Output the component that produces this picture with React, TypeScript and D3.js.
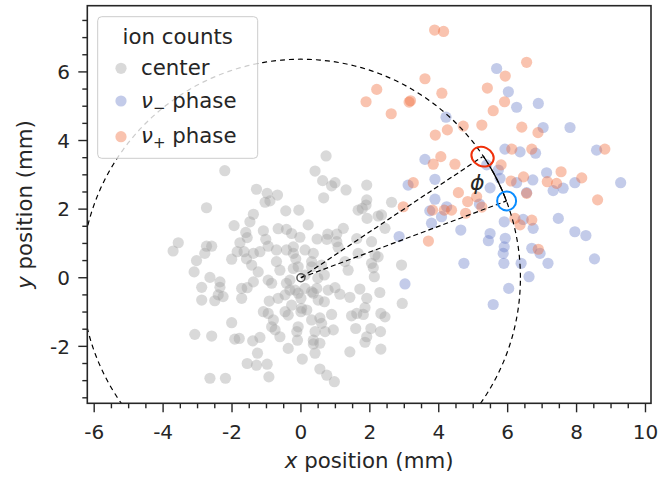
import React from 'react';
import * as d3 from 'd3';

// ion hits (mm)
const centerPts: [number, number][] = [
  [-2.21, 3.12], [-1.29, 2.58], [-0.98, 2.46], [-0.68, 2.41], [-0.9, 2.24], [-1.04, 2.2], [-2.74, 2.04], [-0.44, 1.95],
  [-1.38, 1.85], [-1.48, 1.63], [-1.94, 1.52], [-1.09, 1.37], [-0.66, 1.43], [-0.42, 1.41], [-1.6, 1.32], [-1.56, 1.17],
  [-1.02, 1.12], [-3.56, 1.02], [-3.71, 0.78], [-2.74, 0.92], [-2.59, 0.92], [-1.77, 1.02], [-0.95, 0.92], [-2.79, 0.71],
  [-3.03, 0.5], [-2.01, 0.54], [-1.85, 0.76], [-1.65, 0.76], [-1.38, 0.71], [-1.19, 0.76], [-0.71, 0.81], [-0.42, 0.81],
  [-1.58, 0.55], [-1.43, 0.37], [-0.71, 0.47],
  [0.73, 3.55], [0.41, 3.11], [0.63, 2.83], [0.99, 2.77], [0.89, 2.68], [1.31, 2.56], [1.91, 2.7], [0.66, 2.33],
  [1.91, 2.27], [1.89, 2.12], [1.66, 1.97], [1.78, 2.02], [2.63, 2.2], [-0.06, 1.97], [1.92, 1.73], [2.24, 1.8],
  [2.34, 1.83], [0.21, 1.54], [2.44, 1.44], [1.23, 1.44], [-0.27, 1.29], [-0.03, 1.18], [0.47, 1.13], [0.78, 1.27],
  [1.04, 1.27], [0.75, 1.12], [1.04, 1.05], [1.62, 1.14], [2.05, 1.05], [1.08, 0.89], [-0.22, 0.9], [0.12, 0.81],
  [0.36, 0.71], [1.66, 0.71], [2.24, 0.61], [2.92, 0.37], [-0.08, 0.32], [0.31, 0.47], [1.28, 0.47], [2.05, 0.42],
  [2.15, 0.66],
  [-3.1, 0.17], [-2.64, 0.01], [-2.88, -0.28], [-2.35, -0.12], [-2.35, -0.28], [-2.4, -0.5], [-2.26, -0.55], [-2.5, -0.67],
  [-2.88, -0.65], [-1.72, -0.31], [-1.56, -0.29], [-1.72, -0.6], [-1.24, 0.17], [-1.38, -0.12], [-0.95, -0.07], [-0.85, -0.16],
  [-0.92, -0.68], [-0.66, -0.6], [-0.46, -0.5], [-0.42, -0.16], [-1.09, -0.99], [-0.8, -1.23], [-0.95, -1.04], [-0.46, -0.99],
  [-0.85, -1.43], [-0.75, -1.52], [-0.61, -1.72], [-2.01, -1.31], [-3.08, -1.65], [-2.59, -1.7], [-1.92, -1.79], [-1.79, -1.77],
  [-1.4, -1.84], [-1.19, -1.74], [-0.37, -2.06], [-1.26, -2.2], [-1.56, -2.5], [-1.29, -2.55], [-0.98, -2.52], [-2.64, -2.93],
  [-2.19, -2.93], [-0.93, -2.89],
  [1.37, 0.22], [2.1, 0.29], [2.13, 0.03], [2.94, -0.75], [0.68, 0.08], [-0.32, -0.07], [-0.17, -0.36], [0.12, -0.31],
  [0.46, -0.31], [0.36, -0.45], [0.79, -0.36], [0.99, -0.29], [1.13, -0.48], [0.68, -0.7], [0.5, -0.65], [0.0, -0.6],
  [-0.27, -0.8], [0.02, -0.89], [1.42, -0.57], [1.71, -0.33], [1.91, -0.6], [1.86, -0.87], [2.29, -0.43], [-0.37, -1.09],
  [0.89, -1.07], [0.55, -1.17], [0.31, -1.23], [0.0, -0.99], [1.47, -1.11], [1.62, -1.04], [1.81, -1.07], [2.32, -1.04],
  [2.44, -1.14], [-0.08, -1.43], [-0.12, -1.57], [0.41, -1.57], [0.7, -1.57], [0.94, -1.52], [1.59, -1.48], [2.03, -1.48],
  [2.31, -1.57], [1.91, -1.72], [1.86, -1.88], [0.36, -1.93], [0.55, -1.91], [-0.1, -1.82], [0.41, -2.2], [1.42, -2.16],
  [2.32, -2.08], [0.04, -2.37], [0.55, -2.66], [0.75, -2.84], [0.97, -3.03],
  [-0.22, 0.71], [-0.22, 0.27], [0.31, 0.32], [0.6, 0.37], [-0.08, -0.45], [0.31, -0.41], [0.17, -0.94], [0.6, -1.33],
  [0.36, -1.82], [0.12, 0.08], [-0.32, -0.36], [0.49, -0.01], [-0.61, 0.22], [-0.15, 0.55],
];

const minusPts: [number, number][] = [
  [5.68, 6.1], [6.02, 5.42], [6.26, 4.97], [6.89, 5.08], [4.21, 4.68], [7.03, 4.38], [7.81, 4.38], [5.92, 3.75],
  [6.36, 3.67], [6.81, 3.63], [8.58, 3.72], [3.6, 3.45], [3.89, 2.87], [7.13, 3.06], [7.95, 2.77], [9.28, 2.77],
  [7.61, 2.61], [7.32, 2.54], [6.73, 2.85], [6.26, 2.77], [6.55, 2.48], [3.11, 2.7], [5.39, 3.29], [5.73, 3.14],
  [5.78, 2.9], [3.89, 2.29], [4.23, 2.07], [3.74, 1.95], [4.08, 1.78], [5.18, 2.15], [5.9, 1.63], [6.45, 1.7],
  [6.74, 1.44], [7.47, 1.73], [7.95, 1.34], [8.27, 1.23], [5.49, 1.29], [4.64, 1.39], [2.85, 1.2], [5.44, 1.08],
  [5.93, 1.15], [5.9, 0.9], [5.87, 0.71], [6.7, 0.86], [6.94, 0.71], [7.17, 0.42], [6.39, 0.42], [5.89, 0.42],
  [4.73, 0.42], [8.52, 0.55], [6.62, 0.03], [6.03, -0.31], [5.58, -0.78], [3.02, -0.18], [3.79, 1.59], [5.49, 2.62],
];

const plusPts: [number, number][] = [
  [3.88, 7.22], [4.14, 7.18], [6.55, 6.28], [5.93, 5.88], [3.6, 5.8], [4.09, 5.38], [5.41, 5.53], [5.91, 5.13],
  [5.58, 4.87], [3.18, 5.16], [3.14, 5.12], [2.62, 4.78], [2.2, 5.49], [1.89, 5.13], [4.71, 4.42], [5.25, 4.45],
  [6.41, 4.39], [6.88, 4.23], [4.25, 4.31], [3.9, 4.16], [4.06, 3.53], [3.84, 3.31], [4.47, 3.31], [6.12, 3.75],
  [6.7, 3.75], [8.82, 3.75], [7.55, 3.09], [8.15, 2.91], [8.61, 2.27], [7.15, 2.8], [7.42, 2.75], [6.46, 2.94],
  [6.1, 2.82], [5.81, 3.29], [4.57, 2.48], [4.84, 2.22], [3.26, 2.77], [2.97, 2.07], [3.82, 1.97], [4.16, 1.97],
  [4.37, 1.97], [4.78, 1.88], [3.7, 1.07], [6.21, 1.73], [6.36, 1.54], [6.7, 1.68], [5.1, 2.36], [6.55, 2.46],
  [6.89, 0.83], [5.25, 2.06],
];

const xTicks = [-6, -4, -2, 0, 2, 4, 6, 8, 10];
const yTicks = [-2, 0, 2, 4, 6];
const xMinor = d3.range(-6, 10.01, 0.5);
const yMinor = d3.range(-3.5, 7.51, 0.5);

// annotation: trap radius, nu+ spot (red) and nu- spot (blue)
const RADIUS = 6.37;
const redSpot: [number, number] = [5.27, 3.53];
const blueSpot: [number, number] = [5.97, 2.24];

const W = 659, H = 478;
const FONT = 'DejaVu Sans, sans-serif';
const INK = '#262626';
const GRAY = '#a0a0a0', BLUE = '#697dc8', ORANGE = '#f06937';
const TICK_FS = 20, LABEL_FS = 21.3;

export default function App() {
  const x = d3.scaleLinear().domain([-6.2, 10.16]).range([87.3, 651]);
  const y = d3.scaleLinear().domain([-3.66, 7.93]).range([403.3, 5.7]);
  const [x0, x1] = x.range();
  const [y0, y1] = y.range();

  const line = d3.line<[number, number]>().x(d => x(d[0])).y(d => y(d[1]));
  const circlePts = d3.range(0, 361, 1).map(a => {
    const t = (a * Math.PI) / 180;
    return [RADIUS * Math.cos(t), RADIUS * Math.sin(t)] as [number, number];
  });
  const aRed = Math.atan2(redSpot[1], redSpot[0]);
  const aBlue = Math.atan2(blueSpot[1], blueSpot[0]);
  const arcPts = d3.range(0, 1.0001, 0.05).map(f => {
    const t = aRed + (aBlue - aRed) * f;
    return [RADIUS * Math.cos(t), RADIUS * Math.sin(t)] as [number, number];
  });

  const dots = (pts: [number, number][], color: string) =>
    pts.map((d, i) => (
      <circle key={i} cx={x(d[0])} cy={y(d[1])} r={5.6} fill={color} fillOpacity={0.4} />
    ));

  return (
    <svg width={W} height={H} style={{ position: 'absolute', left: 0, top: 0, background: '#fff' }}
      fontFamily={FONT}>
      <defs>
        <clipPath id="plot">
          <rect x={x0} y={y1} width={x1 - x0} height={y0 - y1} />
        </clipPath>
      </defs>
      <rect width={W} height={H} fill="#fff" />

      <g clipPath="url(#plot)">
        {dots(centerPts, GRAY)}
        {dots(minusPts, BLUE)}
        {dots(plusPts, ORANGE)}

        <path d={line(circlePts) || ''} fill="none" stroke="#000" strokeWidth={1.2} strokeDasharray="5,4" />
        <path d={line([[0, 0], redSpot]) || ''} fill="none" stroke="#000" strokeWidth={1.2} strokeDasharray="5,3" />
        <path d={line([[0, 0], blueSpot]) || ''} fill="none" stroke="#000" strokeWidth={1.2} strokeDasharray="5,3" />
        <path d={line(arcPts) || ''} fill="none" stroke="#000" strokeWidth={1.3} />
        <circle cx={x(0)} cy={y(0)} r={4} fill="none" stroke="#555" strokeWidth={1.5} />
        <ellipse cx={x(redSpot[0])} cy={y(redSpot[1])} rx={11.5} ry={9.5} fill="none" stroke="#f0300a" strokeWidth={2}
          transform={`rotate(25 ${x(redSpot[0])} ${y(redSpot[1])})`} />
        <circle cx={x(blueSpot[0])} cy={y(blueSpot[1])} r={9.5} fill="none" stroke="#0a8cff" strokeWidth={2} />
        <text x={x(5.12)} y={y(2.55)} fontSize={22} fontStyle="italic" fill={INK} textAnchor="middle">ϕ</text>
      </g>

      {/* frame */}
      <rect x={x0} y={y1} width={x1 - x0} height={y0 - y1} fill="none" stroke={INK} strokeWidth={1.6} />

      {/* x axis */}
      {xMinor.map(v => (
        <line key={'xm' + v} x1={x(v)} x2={x(v)} y1={y0} y2={y0 + (v % 2 === 0 ? 9 : 5)} stroke={INK} strokeWidth={1.4} />
      ))}
      {xTicks.map(v => (
        <text key={'xt' + v} x={x(v)} y={439} fontSize={TICK_FS} fill={INK} textAnchor="middle">{String(v)}</text>
      ))}
      {/* y axis */}
      {yMinor.map(v => (
        <line key={'ym' + v} x1={x0} x2={x0 - (Math.abs(v % 2) < 1e-9 ? 9 : 5)} y1={y(v)} y2={y(v)} stroke={INK} strokeWidth={1.4} />
      ))}
      {yTicks.map(v => (
        <text key={'yt' + v} x={70} y={y(v)} dy="0.36em" fontSize={TICK_FS} fill={INK} textAnchor="end">{String(v)}</text>
      ))}

      <text x={(x0 + x1) / 2} y={468} fontSize={LABEL_FS} fill={INK} textAnchor="middle">
        <tspan fontStyle="italic">x</tspan> position (mm)
      </text>
      <text transform={`translate(32,${(y0 + y1) / 2}) rotate(-90)`} fontSize={LABEL_FS} fill={INK} textAnchor="middle">
        <tspan fontStyle="italic">y</tspan> position (mm)
      </text>

      {/* legend */}
      <g>
        <rect x={97.7} y={16.7} width={160} height={141.6} rx={4} fill="#fff" fillOpacity={0.8} stroke="#cccccc" strokeWidth={1} />
        <text x={177.7} y={43.5} fontSize={LABEL_FS} fill={INK} textAnchor="middle">ion counts</text>
        <circle cx={121} cy={68.3} r={5.6} fill={GRAY} fillOpacity={0.4} />
        <circle cx={121} cy={101} r={5.6} fill={BLUE} fillOpacity={0.4} />
        <circle cx={121} cy={136.7} r={5.6} fill={ORANGE} fillOpacity={0.4} />
        <text x={141} y={75} fontSize={LABEL_FS} fill={INK}>center</text>
        <text x={141} y={107.5} fontSize={LABEL_FS} fill={INK}>
          <tspan fontStyle="italic">ν</tspan>
          <tspan dy={5} fontSize={15}>−</tspan>
          <tspan dy={-5}> phase</tspan>
        </text>
        <text x={141} y={142.7} fontSize={LABEL_FS} fill={INK}>
          <tspan fontStyle="italic">ν</tspan>
          <tspan dy={5} fontSize={15}>+</tspan>
          <tspan dy={-5}> phase</tspan>
        </text>
      </g>
    </svg>
  );
}
